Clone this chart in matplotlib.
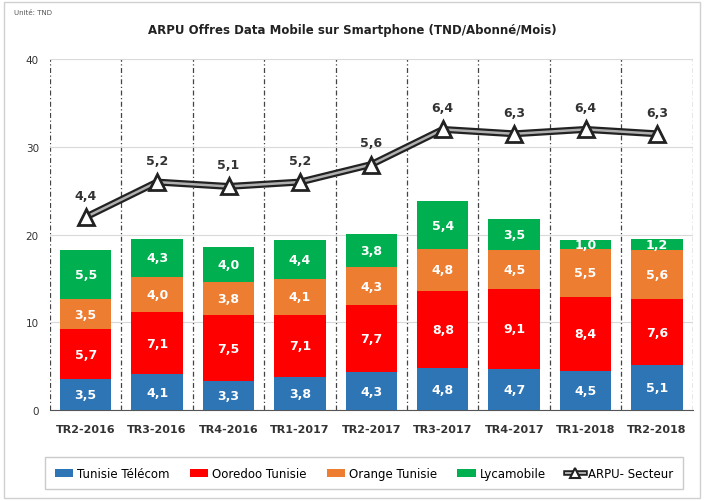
import matplotlib.pyplot as plt
from matplotlib.legend_handler import HandlerTuple
from matplotlib.lines import Line2D
import numpy as np

periods = ["TR2-2016", "TR3-2016", "TR4-2016", "TR1-2017", "TR2-2017",
           "TR3-2017", "TR4-2017", "TR1-2018", "TR2-2018"]
tunisie_telecom = [3.5, 4.1, 3.3, 3.8, 4.3, 4.8, 4.7, 4.5, 5.1]
ooredoo = [5.7, 7.1, 7.5, 7.1, 7.7, 8.8, 9.1, 8.4, 7.6]
orange = [3.5, 4.0, 3.8, 4.1, 4.3, 4.8, 4.5, 5.5, 5.6]
lycamobile = [5.5, 4.3, 4.0, 4.4, 3.8, 5.4, 3.5, 1.0, 1.2]
arpu_secteur = [4.4, 5.2, 5.1, 5.2, 5.6, 6.4, 6.3, 6.4, 6.3]

series = [
    ("Tunisie Télécom", tunisie_telecom, "#2e75b6"),
    ("Ooredoo Tunisie", ooredoo, "#ff0000"),
    ("Orange Tunisie", orange, "#ed7d31"),
    ("Lycamobile", lycamobile, "#00b050"),
]

fig = plt.figure(figsize=(7.04, 5.02), dpi=100)
ax = fig.add_axes([0.071, 0.181, 0.913, 0.699])
x = np.arange(len(periods))
bottom = np.zeros(len(periods))
handles = []
for name, vals, col in series:
    vals = np.array(vals)
    b = ax.bar(x, vals, width=0.72, bottom=bottom, color=col, label=name,
               zorder=3)
    handles.append(b)
    for xi, base, v in zip(x, bottom, vals):
        ax.text(xi, base + v / 2, f"{v:.1f}".replace(".", ","),
                ha="center", va="center", fontsize=9, color="white",
                fontweight="bold", zorder=4)
    bottom += vals

ax.set_xlim(-0.5, len(periods) - 0.5)
ax.set_ylim(0, 40)
ax.set_yticks([0, 10, 20, 30, 40])
ax.tick_params(axis="y", length=0, labelsize=7.5, colors="#333333", pad=8)
ax.set_xticks(x)
ax.set_xticklabels(periods, fontsize=8, fontweight="bold", color="#333333")
ax.tick_params(axis="x", length=0, pad=10)
ax.grid(True, axis="y", color="#d9d9d9", linewidth=0.8, zorder=0)
for sep in np.arange(-0.5, len(periods), 1.0):
    ax.axvline(sep, color="#444444", linestyle=(0, (4, 2, 1, 2)),
               linewidth=0.9, zorder=1)
for s in ["top", "right", "left"]:
    ax.spines[s].set_visible(False)
ax.spines["bottom"].set_color("#555555")

# ARPU secteur on its own (hidden) scale, drawn as a double line
ax2 = ax.twinx()
ax2.set_ylim(0, 8)
ax2.axis("off")
ax2.plot(x, arpu_secteur, color="#222222", linewidth=5, zorder=5,
         solid_capstyle="round")
ax2.plot(x, arpu_secteur, color="#b0b0b0", linewidth=1.8, zorder=6)
ax2.plot(x, arpu_secteur, linestyle="none", marker="^", markersize=11,
         markerfacecolor="white", markeredgecolor="#222222",
         markeredgewidth=2, zorder=7)
for xi, v in zip(x, arpu_secteur):
    ax2.annotate(f"{v:.1f}".replace(".", ","), (xi, v), xytext=(0, 11),
                 textcoords="offset points", ha="center", va="bottom",
                 fontsize=9, fontweight="bold", color="#333333")

fig.text(0.5, 0.94, "ARPU Offres Data Mobile sur Smartphone (TND/Abonné/Mois)",
         ha="center", va="center", fontsize=8.5, fontweight="bold",
         color="#222222")
fig.text(0.02, 0.975, "Unité: TND", ha="left", va="center", fontsize=5,
         color="#555555")

leg_outer = Line2D([], [], color="#222222", linewidth=4)
leg_inner = Line2D([], [], color="#b0b0b0", linewidth=1.4)
leg_mark = Line2D([], [], linestyle="none", marker="^", markersize=7,
                  markerfacecolor="white", markeredgecolor="#222222",
                  markeredgewidth=1.5)
leg = fig.legend(handles + [(leg_outer, leg_inner, leg_mark)],
                 [s[0] for s in series] + ["ARPU- Secteur"],
                 handler_map={tuple: HandlerTuple(ndivide=1, pad=0)},
                 loc="center", bbox_to_anchor=(0.517, 0.055), ncol=5,
                 fontsize=8.5, frameon=True, fancybox=False,
                 handlelength=1.6, handletextpad=0.3, columnspacing=1.7,
                 borderpad=0.8)
leg.get_frame().set_edgecolor("#bfbfbf")

fig.patches.append(plt.Rectangle((0.005, 0.005), 0.99, 0.99,
                                 transform=fig.transFigure, fill=False,
                                 edgecolor="#d0d0d0", linewidth=1))

fig.savefig("out.png", dpi=100)
